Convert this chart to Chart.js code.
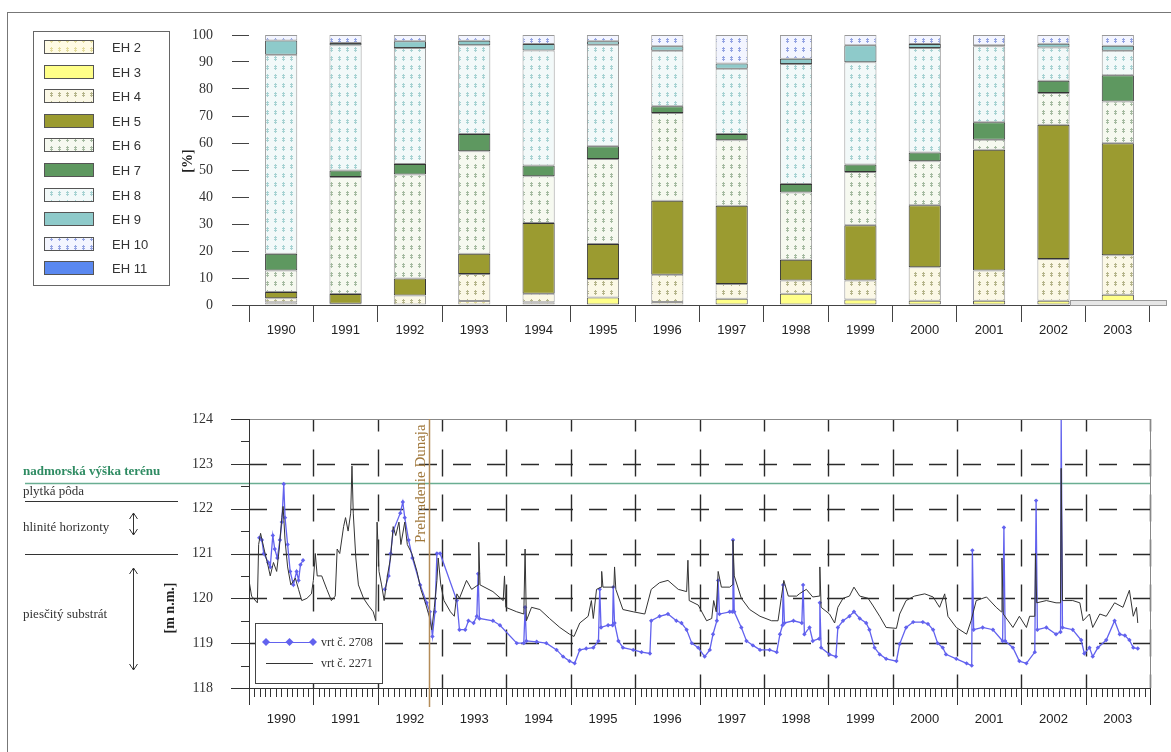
<!DOCTYPE html>
<html>
<head>
<meta charset="utf-8">
<script src="https://cdn.jsdelivr.net/npm/chart.js@4.4.0/dist/chart.umd.min.js"></script>
<style>
    body { margin: 0; background: #fff; }
    #frame { position: absolute; left: 7px; top: 12px; width: 1170px; height: 745px; border-left: 1px solid #777; border-top: 1px solid #777; }
    canvas { position: absolute; left: 0; }
    #barChart { top: 0; }
    #levelChart { top: 360px; }
</style>
</head>
<body>
<div id="frame"></div>
<canvas id="barChart" width="1171" height="360"></canvas>
<canvas id="levelChart" width="1171" height="392"></canvas>
<script>
// ---- data: share of ecological groups (EH) per year, % ----
const years = ['1990', '1991', '1992', '1993', '1994', '1995', '1996', '1997', '1998', '1999', '2000', '2001', '2002', '2003'];
const ehLabels = ['EH 2', 'EH 3', 'EH 4', 'EH 5', 'EH 6', 'EH 7', 'EH 8', 'EH 9', 'EH 10', 'EH 11'];
const eh2 = [1.0, 0, 0, 1.5, 1.0, 0, 1.1, 0, 0, 0, 0, 0, 0, 0];
const eh3 = [0, 0, 0, 0, 0, 2.8, 0, 2.3, 4.2, 2.0, 1.6, 1.6, 1.6, 3.8];
const eh4 = [1.5, 0.5, 3.5, 10.0, 3.2, 6.8, 10.1, 5.5, 4.9, 7.1, 12.4, 11.2, 15.4, 14.6];
const eh5 = [2.3, 3.6, 6.3, 7.5, 26.2, 13.0, 27.4, 29.0, 7.7, 20.4, 22.9, 44.7, 49.8, 41.5];
const eh6 = [8.0, 43.3, 38.5, 37.9, 17.3, 31.5, 32.5, 24.2, 24.9, 19.8, 16.3, 3.7, 11.7, 15.5];
const eh7 = [6.2, 2.4, 3.9, 6.4, 4.0, 4.7, 2.5, 2.3, 3.1, 2.7, 3.3, 6.5, 4.6, 9.7];
const eh8 = [73.7, 46.4, 43.0, 32.9, 42.6, 37.6, 20.6, 24.2, 44.5, 37.9, 38.7, 28.1, 12.3, 9.1];
const eh9 = [5.3, 0.8, 2.5, 1.7, 2.4, 1.3, 1.6, 1.9, 1.9, 6.3, 1.5, 0.4, 1.4, 1.8];
const eh10 = [2.0, 3.0, 2.3, 2.1, 3.3, 2.3, 4.2, 10.6, 8.8, 3.8, 3.3, 3.8, 3.2, 4.0];
const eh11 = [0, 0, 0, 0, 0, 0, 0, 0, 0, 0, 0, 0, 0, 0];

// ---- data: groundwater level [m n.m.], [year, level] ----
const well2271 = [
    [1990.00, 120.4], [1990.04, 120.05], [1990.13, 119.9], [1990.15, 121.2], [1990.18, 121.45], [1990.25, 121.0],
    [1990.30, 120.7], [1990.33, 120.5], [1990.38, 120.8], [1990.43, 120.6], [1990.47, 121.1], [1990.51, 121.8],
    [1990.53, 122.05], [1990.56, 121.3], [1990.60, 120.7], [1990.65, 120.3], [1990.72, 120.45], [1990.77, 120.2],
    [1990.82, 119.95], [1990.90, 120.0], [1990.97, 120.1], [1991.00, 120.4], [1991.03, 121.0], [1991.06, 120.5],
    [1991.13, 120.5], [1991.21, 120.2], [1991.28, 119.95], [1991.34, 120.05], [1991.37, 121.1], [1991.41, 121.0],
    [1991.47, 121.6], [1991.50, 121.8], [1991.54, 121.5], [1991.58, 121.9], [1991.60, 122.95], [1991.62, 121.9],
    [1991.66, 120.9], [1991.70, 120.3], [1991.78, 120.0], [1991.85, 119.85], [1991.93, 119.7], [1991.97, 119.5],
    [1991.99, 121.7], [1992.02, 120.6], [1992.06, 120.3], [1992.10, 119.95], [1992.15, 120.5], [1992.20, 120.9],
    [1992.24, 121.6], [1992.28, 121.4], [1992.33, 121.7], [1992.36, 121.2], [1992.42, 121.7], [1992.46, 121.2],
    [1992.53, 121.0], [1992.61, 120.6], [1992.67, 120.2], [1992.74, 119.9], [1992.80, 119.6], [1992.84, 119.3],
    [1992.88, 119.8], [1992.92, 120.4], [1992.94, 120.9], [1992.98, 120.3], [1993.03, 119.95], [1993.13, 119.7],
    [1993.19, 119.6], [1993.23, 120.1], [1993.27, 120.0], [1993.38, 120.4], [1993.46, 120.2], [1993.56, 120.3],
    [1993.57, 121.25], [1993.59, 120.3], [1993.79, 120.15], [1993.95, 119.95], [1993.97, 120.5], [1993.99, 119.8],
    [1994.16, 119.7], [1994.27, 119.65], [1994.29, 121.1], [1994.31, 119.5], [1994.39, 119.8], [1994.52, 119.75],
    [1994.67, 119.55], [1994.83, 119.35], [1994.98, 119.2], [1995.05, 119.15], [1995.14, 119.45], [1995.27, 119.6],
    [1995.32, 119.95], [1995.35, 119.55], [1995.40, 120.2], [1995.47, 120.25], [1995.48, 120.6], [1995.50, 120.25],
    [1995.63, 120.25], [1995.67, 120.25], [1995.68, 120.7], [1995.70, 120.2], [1995.81, 119.75], [1995.97, 119.7],
    [1996.15, 119.65], [1996.25, 120.2], [1996.38, 120.35], [1996.51, 120.4], [1996.67, 120.2], [1996.80, 120.15],
    [1996.82, 120.85], [1996.84, 119.95], [1996.98, 119.85], [1997.11, 119.5], [1997.19, 119.55], [1997.22, 119.95],
    [1997.26, 119.7], [1997.29, 120.6], [1997.34, 120.25], [1997.47, 120.25], [1997.51, 120.3], [1997.52, 121.3],
    [1997.54, 120.5], [1997.65, 120.0], [1997.78, 119.75], [1997.94, 119.6], [1998.12, 119.5], [1998.22, 119.5],
    [1998.27, 120.0], [1998.31, 120.4], [1998.38, 120.05], [1998.51, 120.05], [1998.55, 120.1], [1998.66, 120.2],
    [1998.76, 120.03], [1998.86, 120.05], [1998.87, 120.7], [1998.89, 119.8], [1999.02, 119.65], [1999.10, 119.45],
    [1999.15, 119.8], [1999.23, 120.0], [1999.33, 120.05], [1999.40, 120.25], [1999.49, 120.05], [1999.62, 120.0],
    [1999.69, 119.85], [1999.80, 119.6], [1999.90, 119.35], [2000.06, 119.33], [2000.11, 119.65], [2000.21, 119.95],
    [2000.34, 120.05], [2000.50, 120.1], [2000.63, 120.03], [2000.73, 119.8], [2000.81, 120.1], [2000.86, 119.6],
    [2000.99, 119.35], [2001.15, 119.2], [2001.22, 119.5], [2001.30, 119.95], [2001.46, 120.03], [2001.61, 119.8],
    [2001.69, 119.7], [2001.70, 120.9], [2001.72, 119.65], [2001.87, 119.35], [2001.97, 119.6], [2002.08, 119.35],
    [2002.13, 119.6], [2002.21, 119.6], [2002.22, 121.0], [2002.24, 119.9], [2002.39, 119.95], [2002.54, 119.9],
    [2002.61, 119.9], [2002.62, 122.9], [2002.64, 119.95], [2002.80, 119.95], [2002.91, 119.9], [2002.96, 119.5],
    [2003.06, 119.65], [2003.11, 119.35], [2003.22, 119.65], [2003.32, 119.6], [2003.45, 119.9], [2003.58, 119.8],
    [2003.68, 120.18], [2003.74, 119.6], [2003.79, 119.8], [2003.81, 119.45]
];
const well2708 = [
    [1990.16, 121.35], [1990.20, 121.3], [1990.23, 121.0], [1990.30, 120.8], [1990.33, 120.7], [1990.37, 121.4],
    [1990.40, 121.1], [1990.44, 120.9], [1990.48, 121.3], [1990.51, 121.7], [1990.54, 122.55], [1990.56, 121.8],
    [1990.60, 121.2], [1990.64, 120.6], [1990.69, 120.3], [1990.74, 120.6], [1990.77, 120.4], [1990.80, 120.75],
    [1990.84, 120.85], [1991.50, null],
    [1992.11, 120.2], [1992.17, 120.5], [1992.20, 121.0], [1992.24, 121.5], [1992.35, 121.9], [1992.39, 122.15],
    [1992.42, 121.8], [1992.48, 121.3], [1992.54, 120.9], [1992.66, 120.3], [1992.76, 119.9], [1992.81, 119.7],
    [1992.85, 119.15], [1992.89, 119.7], [1992.92, 121.0], [1992.97, 121.0], [1993.23, 119.95], [1993.27, 119.3],
    [1993.36, 119.3], [1993.41, 119.5], [1993.49, 119.45], [1993.54, 119.6], [1993.56, 120.55], [1993.58, 119.55],
    [1993.79, 119.5], [1993.90, 119.4], [1994.16, 119.0], [1994.27, 119.0], [1994.29, 119.8], [1994.31, 119.05],
    [1994.47, 119.03], [1994.62, 119.0], [1994.78, 118.85], [1994.88, 118.7], [1994.98, 118.6], [1995.06, 118.55],
    [1995.14, 118.85], [1995.24, 118.88], [1995.35, 118.9], [1995.43, 119.05], [1995.45, 120.2], [1995.47, 119.35],
    [1995.58, 119.4], [1995.65, 119.4], [1995.66, 120.25], [1995.68, 119.45], [1995.74, 119.05], [1995.81, 118.9],
    [1995.97, 118.85], [1996.10, 118.8], [1996.23, 118.77], [1996.25, 119.5], [1996.38, 119.6], [1996.51, 119.65],
    [1996.64, 119.5], [1996.72, 119.45], [1996.80, 119.3], [1996.88, 119.0], [1996.98, 118.9], [1997.08, 118.7],
    [1997.16, 118.85], [1997.21, 119.2], [1997.27, 119.5], [1997.29, 120.4], [1997.31, 119.65], [1997.47, 119.7],
    [1997.51, 119.7], [1997.52, 121.3], [1997.54, 119.7], [1997.65, 119.35], [1997.73, 119.05], [1997.83, 118.95],
    [1997.94, 118.85], [1998.09, 118.85], [1998.20, 118.8], [1998.25, 119.2], [1998.29, 119.4], [1998.30, 120.3],
    [1998.32, 119.45], [1998.46, 119.5], [1998.59, 119.45], [1998.61, 120.3], [1998.63, 119.2], [1998.71, 119.35],
    [1998.76, 119.05], [1998.86, 119.1], [1998.87, 119.9], [1998.89, 118.9], [1999.02, 118.75], [1999.12, 118.7],
    [1999.15, 119.35], [1999.23, 119.5], [1999.33, 119.6], [1999.40, 119.7], [1999.49, 119.55], [1999.59, 119.45],
    [1999.64, 119.3], [1999.72, 118.9], [1999.80, 118.75], [1999.90, 118.65], [2000.06, 118.6], [2000.11, 118.98],
    [2000.21, 119.35], [2000.32, 119.47], [2000.47, 119.47], [2000.55, 119.43], [2000.63, 119.3], [2000.70, 119.0],
    [2000.78, 118.9], [2000.83, 118.75], [2000.99, 118.65], [2001.15, 118.55], [2001.23, 118.5], [2001.24, 121.07],
    [2001.26, 119.3], [2001.40, 119.35], [2001.56, 119.3], [2001.71, 119.05], [2001.73, 121.58], [2001.75, 119.05],
    [2001.87, 118.9], [2001.97, 118.6], [2002.08, 118.55], [2002.21, 118.8], [2002.23, 122.18], [2002.25, 119.3],
    [2002.39, 119.35], [2002.54, 119.2], [2002.61, 119.25], [2002.62, 124.03], [2002.64, 119.35], [2002.80, 119.3],
    [2002.93, 119.07], [2002.98, 118.77], [2003.06, 118.9], [2003.11, 118.7], [2003.19, 118.9], [2003.32, 119.07],
    [2003.45, 119.5], [2003.53, 119.2], [2003.61, 119.17], [2003.68, 119.07], [2003.74, 118.9], [2003.81, 118.88]
];
const levelTicks = [118, 119, 120, 121, 122, 123, 124];
const terrainLevel = 122.58;     // nadmorska vyska terenu
const soilBoundaries = [122.18, 120.98];
const damYear = 1992.79;         // Prehradenie Dunaja

/**
 * Dotted fill like the old spreadsheet patterns
 */
function dotPattern(bg, mark) {
    const c = document.createElement('canvas');
    c.width = 8;
    c.height = 9;
    const g = c.getContext('2d');
    g.fillStyle = bg;
    g.fillRect(0, 0, 8, 9);
    g.fillStyle = mark;
    g.fillRect(2, 3, 3, 1);
    g.fillRect(2, 5, 3, 1);
    g.fillRect(3, 2, 1, 5);
    return g.createPattern(c, 'repeat');
}

const ehFills = [
    dotPattern('#fffbe4', '#e4dc9c'),   // EH 2
    '#ffff88',                          // EH 3
    dotPattern('#fbf8e6', '#b4b48a'),   // EH 4
    '#9b9b30',                          // EH 5
    dotPattern('#f6f9f0', '#a4baa0'),   // EH 6
    '#5e9860',                          // EH 7
    dotPattern('#f2f9f9', '#a6d2d2'),   // EH 8
    '#8ecaca',                          // EH 9
    dotPattern('#f3f5ff', '#93a3e2'),   // EH 10
    '#5a88f0'                           // EH 11
];
const ehBorders = ['#999', '#555', '#999', '#333', '#999', '#333', '#999', '#444', '#999', '#333'];
const ehSeries = [eh2, eh3, eh4, eh5, eh6, eh7, eh8, eh9, eh10, eh11];

/**
 * Extras for the bar chart: axis line, boxed legend, [%] title
 */
const barExtras = {
    id: 'barExtras',
    afterDraw(chart) {
        const ctx = chart.ctx;
        const a = chart.chartArea;
        ctx.save();
        // x axis line
        ctx.strokeStyle = '#444';
        ctx.lineWidth = 1;
        ctx.beginPath();
        ctx.moveTo(a.left - 17, a.bottom + 0.5);
        ctx.lineTo(1167, a.bottom + 0.5);
        ctx.stroke();
        ctx.fillStyle = '#e6e6e6';
        ctx.strokeStyle = '#999';
        ctx.fillRect(1070, a.bottom - 5, 97, 5);
        ctx.strokeRect(1070.5, a.bottom - 4.5, 96, 5);

        // legend box
        ctx.strokeStyle = '#666';
        ctx.strokeRect(33.5, 31.5, 136, 254);
        ctx.font = '13px "Liberation Sans", Arial, sans-serif';
        ctx.textBaseline = 'middle';
        ehLabels.forEach((label, i) => {
            const y = Math.round(47 + 24.6 * i);
            ctx.fillStyle = ehFills[i];
            ctx.fillRect(44, y - 6, 49, 13);
            ctx.strokeStyle = '#555';
            ctx.strokeRect(44.5, y - 6.5, 49, 13);
            ctx.fillStyle = '#333';
            ctx.fillText(label, 112, y + 1);
        });

        // y title
        ctx.translate(188, 161);
        ctx.rotate(-Math.PI / 2);
        ctx.font = 'bold 14px "Liberation Serif", serif';
        ctx.fillStyle = '#222';
        ctx.textAlign = 'center';
        ctx.fillText('[%]', 0, 0);
        ctx.restore();
    }
};

/**
 * Extras for the level chart: dashed grid, ticks, annotations, legend
 */
const levelExtras = {
    id: 'levelExtras',
    beforeDatasetsDraw(chart) {
        const ctx = chart.ctx;
        const a = chart.chartArea;
        const x = chart.scales.x;
        const y = chart.scales.y;
        ctx.save();
        ctx.strokeStyle = '#2a2a2a';
        ctx.lineWidth = 1.4;
        ctx.setLineDash([18, 16]);
        levelTicks.slice(1, -1).forEach(v => {
            const py = Math.round(y.getPixelForValue(v)) + 0.5;
            ctx.beginPath();
            ctx.moveTo(a.left, py);
            ctx.lineTo(a.right, py);
            ctx.stroke();
        });
        ctx.setLineDash([27, 18]);
        ctx.lineDashOffset = 13.5;
        years.slice(1).concat(['2004']).forEach(yr => {
            const px = Math.round(x.getPixelForValue(+yr)) + 0.5;
            ctx.beginPath();
            ctx.moveTo(px, a.bottom);
            ctx.lineTo(px, a.top);
            ctx.stroke();
        });
        ctx.setLineDash([]);

        // terrain level and soil horizons
        const gy = Math.round(y.getPixelForValue(terrainLevel)) + 0.5;
        ctx.strokeStyle = '#6aae92';
        ctx.lineWidth = 1.5;
        ctx.beginPath();
        ctx.moveTo(25, gy);
        ctx.lineTo(a.right, gy);
        ctx.stroke();
        ctx.strokeStyle = '#333';
        ctx.lineWidth = 1;
        soilBoundaries.forEach(v => {
            const py = Math.round(y.getPixelForValue(v)) + 0.5;
            ctx.beginPath();
            ctx.moveTo(25, py);
            ctx.lineTo(178, py);
            ctx.stroke();
        });
        ctx.restore();
    },
    afterDraw(chart) {
        const ctx = chart.ctx;
        const a = chart.chartArea;
        const x = chart.scales.x;
        const y = chart.scales.y;
        ctx.save();

        // frame
        ctx.strokeStyle = '#888';
        ctx.lineWidth = 1;
        ctx.strokeRect(a.left + 0.5, a.top + 0.5, a.right - a.left, a.bottom - a.top);
        ctx.strokeStyle = '#333';
        ctx.beginPath();
        ctx.moveTo(a.left + 0.5, a.top);
        ctx.lineTo(a.left + 0.5, a.bottom + 17);
        ctx.moveTo(a.left - 17, a.bottom + 0.5);
        ctx.lineTo(a.right, a.bottom + 0.5);
        ctx.stroke();

        // y ticks
        for (let v = 118; v <= 124; v += 0.5) {
            const py = Math.round(y.getPixelForValue(v)) + 0.5;
            const len = Number.isInteger(v) ? 18 : 8;
            ctx.beginPath();
            ctx.moveTo(a.left - len, py);
            ctx.lineTo(a.left, py);
            ctx.stroke();
        }
        // x ticks, monthly
        for (let m = 0; m <= 14 * 12; m++) {
            const px = Math.round(x.getPixelForValue(1990 + m / 12)) + 0.5;
            const len = m % 12 === 0 ? 17 : 9;
            ctx.beginPath();
            ctx.moveTo(px, a.bottom);
            ctx.lineTo(px, a.bottom + len);
            ctx.stroke();
        }

        // dam closure
        const dx = Math.round(x.getPixelForValue(damYear)) + 0.5;
        ctx.strokeStyle = '#b48c58';
        ctx.lineWidth = 1.5;
        ctx.beginPath();
        ctx.moveTo(dx, a.top);
        ctx.lineTo(dx, a.bottom + 19);
        ctx.stroke();
        ctx.save();
        ctx.translate(dx - 8, 543 - 360);
        ctx.rotate(-Math.PI / 2);
        ctx.font = '15px "Liberation Serif", serif';
        ctx.fillStyle = '#a0783c';
        ctx.textBaseline = 'middle';
        ctx.fillText('Prehradenie Dunaja', 0, 0);
        ctx.restore();

        // left annotations
        ctx.textBaseline = 'middle';
        ctx.font = 'bold 13px "Liberation Serif", serif';
        ctx.fillStyle = '#2e8b62';
        ctx.fillText('nadmorská výška terénu', 23, 472 - 360);
        ctx.font = '13px "Liberation Serif", serif';
        ctx.fillStyle = '#333';
        ctx.fillText('plytká pôda', 23, 492 - 360);
        ctx.fillText('hlinité horizonty', 23, 528 - 360);
        ctx.fillText('piesčitý substrát', 23, 615 - 360);
        drawDoubleArrow(ctx, 133.5, 513 - 360, 535 - 360);
        drawDoubleArrow(ctx, 133.5, 568 - 360, 670 - 360);

        ctx.save();
        ctx.translate(170, 608 - 360);
        ctx.rotate(-Math.PI / 2);
        ctx.font = 'bold 14px "Liberation Serif", serif';
        ctx.fillStyle = '#222';
        ctx.textAlign = 'center';
        ctx.fillText('[m n.m.]', 0, 0);
        ctx.restore();

        // legend
        const ly = 623 - 360;
        ctx.fillStyle = '#fff';
        ctx.fillRect(255, ly, 127, 60);
        ctx.strokeStyle = '#444';
        ctx.lineWidth = 1;
        ctx.strokeRect(255.5, ly + 0.5, 127, 60);
        const ds = chart.data.datasets;
        const rowY = [ly + 19, ly + 40];
        [ds[1], ds[0]].forEach((d, i) => {
            ctx.strokeStyle = d.borderColor;
            ctx.beginPath();
            ctx.moveTo(266, rowY[i] + 0.5);
            ctx.lineTo(313, rowY[i] + 0.5);
            ctx.stroke();
            if (d.pointRadius > 0) {
                ctx.fillStyle = d.borderColor;
                [266, 289.5, 313].forEach(px => {
                    ctx.beginPath();
                    ctx.moveTo(px, rowY[i] - 4);
                    ctx.lineTo(px + 4, rowY[i]);
                    ctx.lineTo(px, rowY[i] + 4);
                    ctx.lineTo(px - 4, rowY[i]);
                    ctx.closePath();
                    ctx.fill();
                });
            }
            ctx.fillStyle = '#333';
            ctx.font = '12px "Liberation Serif", serif';
            ctx.fillText(d.label, 321, rowY[i] + 1);
        });
        ctx.restore();
    }
};

function drawDoubleArrow(ctx, x, y1, y2) {
    ctx.strokeStyle = '#333';
    ctx.lineWidth = 1;
    ctx.beginPath();
    ctx.moveTo(x, y1);
    ctx.lineTo(x, y2);
    ctx.moveTo(x - 4, y1 + 6);
    ctx.lineTo(x, y1);
    ctx.lineTo(x + 4, y1 + 6);
    ctx.moveTo(x - 4, y2 - 6);
    ctx.lineTo(x, y2);
    ctx.lineTo(x + 4, y2 - 6);
    ctx.stroke();
}

new Chart(document.getElementById('barChart'), {
    type: 'bar',
    data: {
        labels: years,
        datasets: ehSeries.map((values, i) => ({
            label: ehLabels[i],
            data: values.map(v => (v > 0 ? v : null)),
            backgroundColor: ehFills[i],
            borderColor: ehBorders[i],
            borderWidth: 1,
            borderSkipped: false,
            barPercentage: 0.5,
            categoryPercentage: 1
        }))
    },
    options: {
        responsive: false,
        animation: false,
        layout: { padding: { left: 177, right: 21, top: 35, bottom: 0 } },
        plugins: { legend: { display: false }, tooltip: { enabled: false } },
        scales: {
            x: {
                stacked: true,
                grid: { offset: true, drawOnChartArea: false, tickLength: 17, color: '#444' },
                border: { display: false },
                ticks: {
                    padding: 1,
                    maxRotation: 0,
                    color: '#222',
                    font: { family: '"Liberation Sans", Arial, sans-serif', size: 13 }
                },
                afterFit: scale => { scale.height = 55; }
            },
            y: {
                stacked: true,
                min: 0,
                max: 100,
                grid: { drawOnChartArea: false, tickLength: 17, color: '#444' },
                border: { display: false },
                ticks: {
                    stepSize: 5,
                    padding: 19,
                    color: '#333',
                    font: { family: '"Liberation Serif", serif', size: 14 },
                    callback: v => (v % 10 === 0 ? v : '')
                },
                afterFit: scale => { scale.width = 72; }
            }
        }
    },
    plugins: [barExtras]
});

new Chart(document.getElementById('levelChart'), {
    type: 'line',
    data: {
        datasets: [
            {
                label: 'vrt č. 2271',
                data: well2271.map(([t, v]) => ({ x: t, y: v })),
                borderColor: '#333',
                borderWidth: 1,
                pointRadius: 0,
                tension: 0
            },
            {
                label: 'vrt č. 2708',
                data: well2708.map(([t, v]) => ({ x: t, y: v })),
                borderColor: '#6262ee',
                backgroundColor: '#6262ee',
                borderWidth: 1.3,
                pointRadius: 2.2,
                pointBorderWidth: 0,
                pointStyle: 'rectRot',
                tension: 0
            }
        ]
    },
    options: {
        responsive: false,
        animation: false,
        layout: { padding: { left: 177, right: 21, top: 59, bottom: 0 } },
        plugins: { legend: { display: false }, tooltip: { enabled: false } },
        scales: {
            x: {
                type: 'linear',
                min: 1990,
                max: 2004,
                afterBuildTicks: scale => {
                    scale.ticks = years.map(yr => ({ value: +yr + 0.5 }));
                },
                grid: { display: false, drawTicks: false },
                border: { display: false },
                ticks: {
                    autoSkip: false,
                    maxRotation: 0,
                    padding: 24,
                    color: '#222',
                    font: { family: '"Liberation Sans", Arial, sans-serif', size: 13 },
                    callback: v => String(Math.floor(v))
                },
                afterFit: scale => { scale.height = 64; }
            },
            y: {
                min: levelTicks[0],
                max: levelTicks[levelTicks.length - 1],
                grid: { display: false, drawTicks: false },
                border: { display: false },
                ticks: {
                    stepSize: 1,
                    padding: 36,
                    color: '#333',
                    font: { family: '"Liberation Serif", serif', size: 14 }
                },
                afterFit: scale => { scale.width = 72; }
            }
        }
    },
    plugins: [levelExtras]
});
</script>
</body>
</html>
